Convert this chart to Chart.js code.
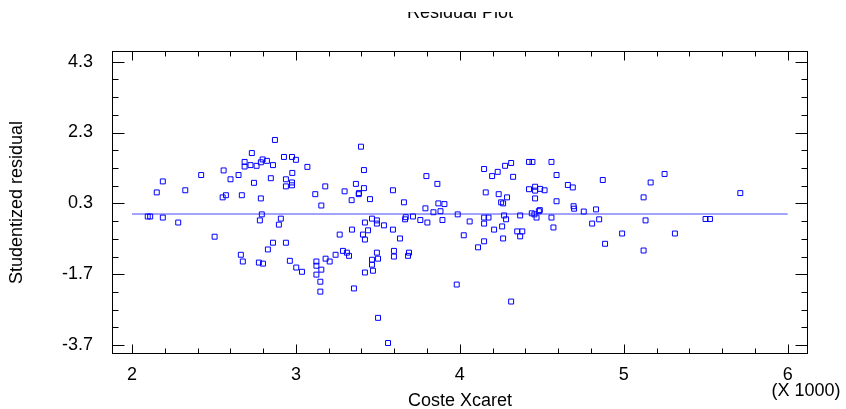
<!DOCTYPE html>
<html>
<head>
<meta charset="utf-8">
<script src="https://cdn.jsdelivr.net/npm/chart.js@4.4.1/dist/chart.umd.min.js"></script>
<style>
  html, body { margin: 0; padding: 0; background: #fff; }
  canvas { display: block; }
</style>
</head>
<body>
<canvas id="chart" width="846" height="409"></canvas>
<script>
// Coste Xcaret (x) vs studentized residual (y)
const costeX = [
  2872, 2731, 2927, 2976, 2797, 2823, 2786, 2687, 2687, 2723,
  2760, 2860, 3000, 3070, 2559, 2422, 2650, 2978, 2188, 2601,
  2847, 2939, 2744, 2976, 2976, 2939, 3179, 2151, 2325, 2573,
  2553, 2670, 2786, 3118, 3155, 2096, 2111, 2188, 2282, 2792,
  2780, 2908, 2896, 2504, 2860, 2939, 2829, 2664, 2676, 2774,
  2799, 2963, 3002, 3037, 3125, 3125, 3155, 3125, 3149, 3149,
  3181, 3206, 3242, 3287, 3311, 3324, 3267, 3342, 3421, 3464,
  3494, 3494, 3409, 3440, 3421, 3494, 3501, 3464, 3464, 3470,
  3421, 3354, 3501, 3397, 3415, 3796, 3863, 4148, 4197, 4231,
  4158, 4237, 3297, 3366, 3415, 3383, 3385, 3340, 3452, 3592,
  3659, 3869, 3906, 3790, 3839, 3882, 3987, 3537, 3592, 3670,
  3666, 3714, 3759, 3802, 3894, 4060, 4148, 4175, 4148, 4209,
  3635, 4024, 4148, 4111, 3598, 3598, 3690, 3684, 3981, 4313,
  3562, 4276, 4313, 4325, 4422, 4443, 4559, 4590, 4872, 4659,
  4689, 4422, 4459, 4459, 4490, 4517, 4288, 4252, 4264, 4459,
  4590, 4694, 4697, 4756, 4831, 4270, 4282, 4368, 4439, 4455,
  4468, 4482, 4488, 4559, 4571, 4850, 4807, 4258, 4350, 4381,
  4368, 4264, 4886, 5249, 5164, 5121, 5711, 5133, 5499, 5526,
  4990, 5312, 5121
];
const residual = [
  2.09, 1.72, 1.61, 1.61, 1.54, 1.50, 1.46, 1.47, 1.34, 1.38,
  1.36, 1.38, 1.53, 1.33, 1.23, 1.10, 1.10, 1.16, 0.92, 0.98,
  1.01, 0.98, 0.88, 0.89, 0.81, 0.78, 0.78, 0.61, 0.67, 0.53,
  0.47, 0.53, 0.44, 0.56, 0.24, -0.07, -0.07, -0.10, -0.24, -0.01,
  -0.18, -0.13, -0.30, -0.64, -0.81, -0.81, -1.00, -1.15, -1.34, -1.37,
  -1.40, -1.32, -1.51, -1.63, -1.34, -1.46, -1.57, -1.71, -1.91, -2.19,
  -1.26, -1.34, -1.15, -1.04, -1.09, -1.18, -0.58, -0.44, -0.24, -0.13,
  -0.18, -0.27, -0.58, -0.46, -0.72, -1.09, -1.26, -1.29, -1.43, -1.60,
  -1.65, -2.10, -2.93, 1.90, 1.24, 1.07, 0.85, 1.27, 1.07, 1.19,
  0.61, 0.56, 0.64, 0.85, 0.73, 0.56, 0.59, 0.39, 0.42, 0.67,
  0.33, 0.30, 0.28, 0.16, 0.05, 0.08, -0.01, -0.32, -0.44, -0.09,
  -0.15, -0.07, -0.17, -0.24, -0.17, -0.21, -0.10, -0.10, -0.27, -0.44,
  -0.69, -0.60, -0.77, -0.94, -1.04, -1.20, -1.09, -1.18, -1.99, -2.47,
  -3.64, 1.36, 1.44, 1.05, 1.47, 1.47, 1.47, 1.10, 0.96, 0.82,
  0.75, 0.70, 0.77, 0.66, 0.71, 0.67, 0.47, 0.33, 0.30, 0.44,
  0.36, 0.22, 0.15, 0.07, 0.13, -0.04, -0.15, -0.04, 0.02, -0.01,
  -0.10, 0.08, 0.11, -0.10, -0.38, -0.15, -0.27, -0.35, -0.49, -0.49,
  -0.63, -0.69, -0.84, 1.13, 0.89, 0.47, 0.59, -0.18, -0.14, -0.14,
  -0.55, -0.55, -1.03
];

// zero reference line
const fitX = [2000, 6000];
const fitY = [0, 0];

// tick values
const xMajor = [2000, 3000, 4000, 5000, 6000];
const yMajor = [-3.7, -1.7, 0.3, 2.3, 4.3];
const xMinorStep = 200;
const yMinorStep = 0.5;

const FONT = "'Liberation Sans', Arial, sans-serif";
Chart.defaults.font.family = FONT;
Chart.defaults.color = '#000';

function stepsBetween(first, last, step) {
  const out = [];
  const n = Math.round((last - first) / step);
  for (let i = 0; i <= n; i++) out.push(+(first + i * step).toFixed(4));
  return out;
}

const xTickVals = stepsBetween(xMajor[0], xMajor[xMajor.length - 1], xMinorStep);
const yTickVals = stepsBetween(yMajor[0], yMajor[yMajor.length - 1], yMinorStep);
const isMajor = (list, v) => list.some(m => Math.abs(m - v) < 1e-6);

const frame = {
  id: 'frame',
  afterDraw(chart) {
    const ctx = chart.ctx;
    const a = chart.chartArea;
    const xs = chart.scales.x, ys = chart.scales.y;
    const L = Math.round(a.left) + 0.5, R = Math.round(a.right) - 0.5;
    const T = Math.round(a.top) + 0.5, B = Math.round(a.bottom) - 0.5;
    ctx.save();
    ctx.strokeStyle = '#000';
    ctx.lineWidth = 1;
    ctx.strokeRect(L, T, R - L, B - T);
    ctx.beginPath();
    xTickVals.forEach(v => {
      const px = Math.round(xs.getPixelForValue(v)) + 0.5;
      const len = isMajor(xMajor, v) ? 9 : 5;
      ctx.moveTo(px, B); ctx.lineTo(px, B - len);
      ctx.moveTo(px, T); ctx.lineTo(px, T + len);
    });
    yTickVals.forEach(v => {
      const py = Math.round(ys.getPixelForValue(v)) + 0.5;
      const len = isMajor(yMajor, v) ? 12 : 6;
      ctx.moveTo(L, py); ctx.lineTo(L + len, py);
      ctx.moveTo(R, py); ctx.lineTo(R - len, py);
    });
    ctx.stroke();

    // multiplier note under the last x label
    ctx.fillStyle = '#000';
    ctx.font = '18px ' + FONT;
    ctx.textAlign = 'center';
    ctx.textBaseline = 'middle';
    ctx.fillText('(X 1000)', 806, 391);

    // title, top part cut off as in the source
    ctx.beginPath();
    ctx.rect(0, 12, chart.width, 20);
    ctx.clip();
    ctx.textBaseline = 'alphabetic';
    ctx.fillText('Residual Plot', (a.left + a.right) / 2, 18);
    ctx.restore();
  }
};

new Chart(document.getElementById('chart'), {
  type: 'scatter',
  data: {
    datasets: [
      {
        label: 'Residuals',
        data: costeX.map((x, i) => ({ x: x, y: residual[i] })),
        pointStyle: 'rect',
        pointRadius: 3.5,
        borderWidth: 1,
        borderColor: 'rgb(0,0,255)',
        backgroundColor: 'rgba(0,0,0,0)'
      },
      {
        type: 'line',
        label: 'Zero',
        data: fitX.map((x, i) => ({ x: x, y: fitY[i] })),
        borderColor: 'rgb(70,70,255)',
        borderWidth: 1,
        pointRadius: 0,
        fill: false
      }
    ]
  },
  options: {
    responsive: false,
    animation: false,
    layout: { padding: { top: 51, right: 38, left: 0, bottom: 0 } },
    plugins: {
      legend: { display: false },
      tooltip: { enabled: false }
    },
    scales: {
      x: {
        type: 'linear',
        min: 1878,
        max: 6124,
        grid: { display: false },
        border: { display: false },
        afterBuildTicks: s => { s.ticks = xTickVals.map(v => ({ value: v })); },
        afterFit: s => { s.height = 55; },
        ticks: {
          autoSkip: false,
          maxRotation: 0,
          padding: 2,
          font: { size: 18 },
          callback: v => isMajor(xMajor, v) ? String(v / 1000) : ''
        },
        title: {
          display: true,
          text: 'Coste Xcaret',
          font: { size: 18, lineHeight: 1 },
          padding: { top: 0, bottom: -1 }
        }
      },
      y: {
        type: 'linear',
        min: -3.95,
        max: 4.6,
        grid: { display: false },
        border: { display: false },
        afterBuildTicks: s => { s.ticks = yTickVals.map(v => ({ value: v })); },
        afterFit: s => { s.width = 112; },
        ticks: {
          autoSkip: false,
          padding: 11,
          font: { size: 18 },
          callback: v => isMajor(yMajor, v) ? v.toFixed(1) : ''
        },
        title: {
          display: true,
          text: 'Studentized residual',
          font: { size: 18, lineHeight: 1 },
          padding: { top: 8, bottom: 0 }
        }
      }
    }
  },
  plugins: [frame]
});
</script>
</body>
</html>
